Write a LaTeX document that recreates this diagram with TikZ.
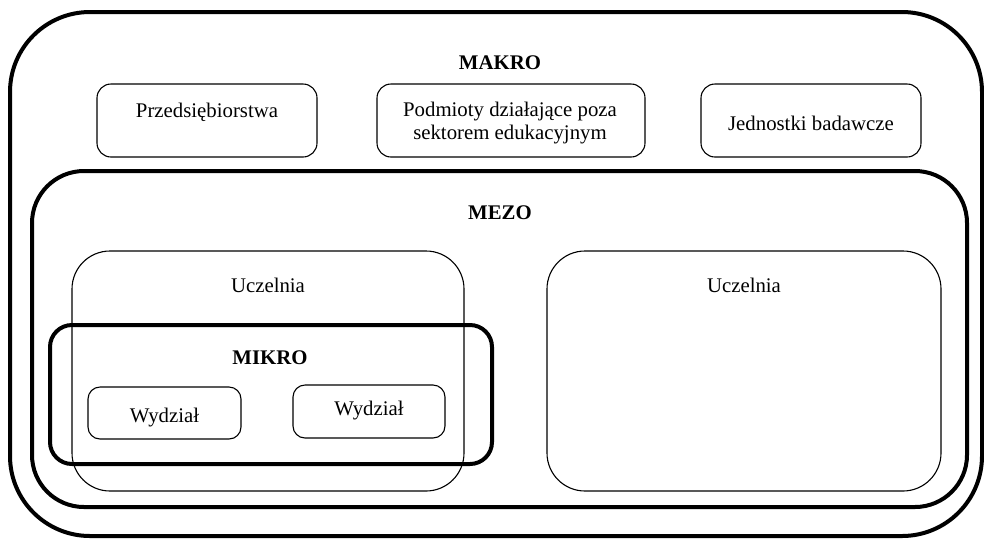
\documentclass[tikz,border=0pt]{standalone}
\usepackage{fontspec}
\setmainfont{Liberation Serif}
\begin{document}
\begin{tikzpicture}[x=1pt,y=-1pt,
  every node/.style={font=\fontsize{20.8}{23}\selectfont},
  thickbox/.style={draw, line width=4pt, inner sep=0pt},
  thinbox/.style={draw, line width=1.1pt, inner sep=0pt},
  lbl/.style={anchor=base, inner sep=0pt},
  ttl/.style={anchor=base, inner sep=0pt, font=\fontsize{20.8}{23}\selectfont\bfseries}
]
\useasboundingbox (0,0) rectangle (984,539);
% level boxes
\node[thickbox, rounded corners=80pt, minimum width=972pt, minimum height=524pt] (makrobox) at (496,274) {};
\node[thickbox, rounded corners=52pt, minimum width=935pt, minimum height=336pt] (mezobox) at (499.5,339) {};
\node[thinbox, rounded corners=38pt, minimum width=392pt, minimum height=240pt] (uczL) at (268,371) {};
\node[thinbox, rounded corners=38pt, minimum width=394pt, minimum height=240pt] (uczR) at (744,371) {};
\node[thickbox, rounded corners=22pt, minimum width=442pt, minimum height=139pt] (mikrobox) at (271,394.5) {};
% makro boxes
\node[thinbox, rounded corners=14pt, minimum width=220pt, minimum height=73pt] (przed) at (207,120.5) {};
\node[thinbox, rounded corners=14pt, minimum width=268pt, minimum height=73pt] (podm) at (511,120.5) {};
\node[thinbox, rounded corners=14pt, minimum width=220pt, minimum height=73pt] (jedn) at (811,120.5) {};
% wydzialy
\node[thinbox, rounded corners=12pt, minimum width=153pt, minimum height=52pt] (wyd1) at (164.5,413) {};
\node[thinbox, rounded corners=12pt, minimum width=152pt, minimum height=53pt] (wyd2) at (369,411.5) {};
% titles
\node[ttl] (makro) at (500,69.5) {MAKRO};
\node[ttl] (mezo) at (500,219.5) {MEZO};
\node[ttl] (mikro) at (270,364.5) {MIKRO};
% labels
\node[lbl] (tprzed) at (207,117) {Przedsiębiorstwa};
\node[anchor=center, inner sep=0pt, align=center] (tpodm) at (510,123) {Podmioty działające poza\\sektorem edukacyjnym};
\node[lbl] (tjedn) at (811,130) {Jednostki badawcze};
\node[lbl] (tuczL) at (268,292) {Uczelnia};
\node[lbl] (tuczR) at (744,292) {Uczelnia};
\node[lbl] (twyd1) at (164.5,422) {Wydział};
\node[lbl] (twyd2) at (369,415) {Wydział};
\end{tikzpicture}
\end{document}
